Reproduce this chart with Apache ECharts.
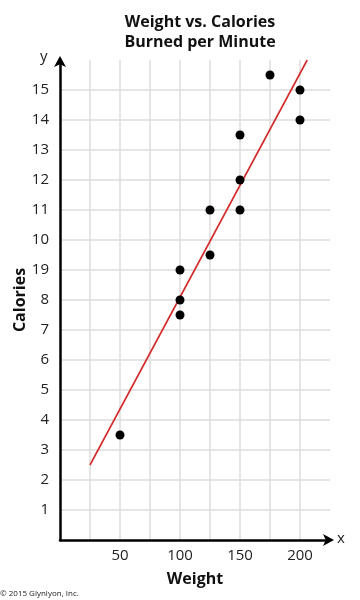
<!DOCTYPE html>
<html><head><meta charset="utf-8">
<script src="https://cdn.jsdelivr.net/npm/echarts@6/dist/echarts.min.js"></script>
<style>html,body{margin:0;padding:0;background:#fff}#c{width:360px;height:600px}</style>
</head><body><div id="c"></div>
<script>
var weights = [50, 100, 100, 100, 125, 125, 150, 150, 150, 175, 200, 200];
var calories = [3.5, 9, 8, 7.5, 11, 9.5, 13.5, 12, 11, 15.5, 15, 14];
var fitLine = [[25, 2.5], [206, 16]];
var yTickLabels = {1:'1',2:'2',3:'3',4:'4',5:'5',6:'6',7:'7',8:'8',9:'19',10:'10',11:'11',12:'12',13:'13',14:'14',15:'15'};
var xTickLabels = {50:'50',100:'100',150:'150',200:'200'};

var F = '"Open Sans", sans-serif';
var chart = echarts.init(document.getElementById('c'));
var g = '#dcdcdc';
var yColors = []; for (var i = 0; i <= 16; i++) yColors.push(i === 0 || i === 16 ? 'rgba(0,0,0,0)' : g);
var xColors = []; for (var j = 0; j <= 9; j++) xColors.push(j === 0 || j === 9 ? 'rgba(0,0,0,0)' : g);
var pts = weights.map(function (w, i) { return [w, calories[i]]; });
chart.setOption({
  animation: false,
  title: {
    text: 'Weight vs. Calories\nBurned per Minute',
    left: 195, top: 7, textAlign: 'center',
    textStyle: { fontFamily: F, fontSize: 16, fontWeight: 'bold', color: '#111', lineHeight: 20 }
  },
  grid: { left: 60, right: 30, top: 60, bottom: 60 },
  xAxis: {
    type: 'value', min: 0, max: 225, interval: 25,
    name: 'Weight', nameLocation: 'middle', nameGap: 31, nameMoveOverlap: false,
    nameTextStyle: { fontFamily: F, fontSize: 16, fontWeight: 'bold', color: '#111' },
    axisLine: { onZero: false, lineStyle: { color: '#000', width: 2.5 }, symbol: ['none', 'arrow'], symbolSize: [9, 11], symbolOffset: [0, 4] },
    axisTick: { show: false },
    axisLabel: { margin: 8, fontFamily: F, fontSize: 15, color: '#222', formatter: function (v) { return xTickLabels[v] || ''; } },
    splitLine: { show: true, lineStyle: { color: xColors, width: 1.5 } }
  },
  yAxis: {
    type: 'value', min: 0, max: 16, interval: 1,
    name: 'Calories', nameLocation: 'middle', nameGap: 32, nameMoveOverlap: false,
    nameTextStyle: { fontFamily: F, fontSize: 16, fontWeight: 'bold', color: '#111' },
    axisLine: { onZero: false, lineStyle: { color: '#000', width: 2.5 }, symbol: ['none', 'arrow'], symbolSize: [9, 11], symbolOffset: [0, 4] },
    axisTick: { show: false },
    axisLabel: { margin: 11, fontFamily: F, fontSize: 15, color: '#222', formatter: function (v) { return yTickLabels[v] || ''; } },
    splitLine: { show: true, lineStyle: { color: yColors, width: 1.5 } }
  },
  graphic: [
    { type: 'text', left: 337, top: 531, style: { text: 'x', font: '15px ' + F, fill: '#222' } },
    { type: 'text', left: 40, top: 49, style: { text: 'y', font: '15px ' + F, fill: '#222' } },
    { type: 'text', left: 0, top: 590, style: { text: '© 2015 Glynlyon, Inc.', font: '8px ' + F, fill: '#222' } }
  ],
  series: [
    { type: 'line', data: fitLine, symbol: 'none', lineStyle: { color: '#d42a2a', width: 1.6 }, z: 2 },
    { type: 'scatter', data: pts, symbolSize: 9, itemStyle: { color: '#000', opacity: 1 }, z: 3 }
  ]
});
</script></body></html>
